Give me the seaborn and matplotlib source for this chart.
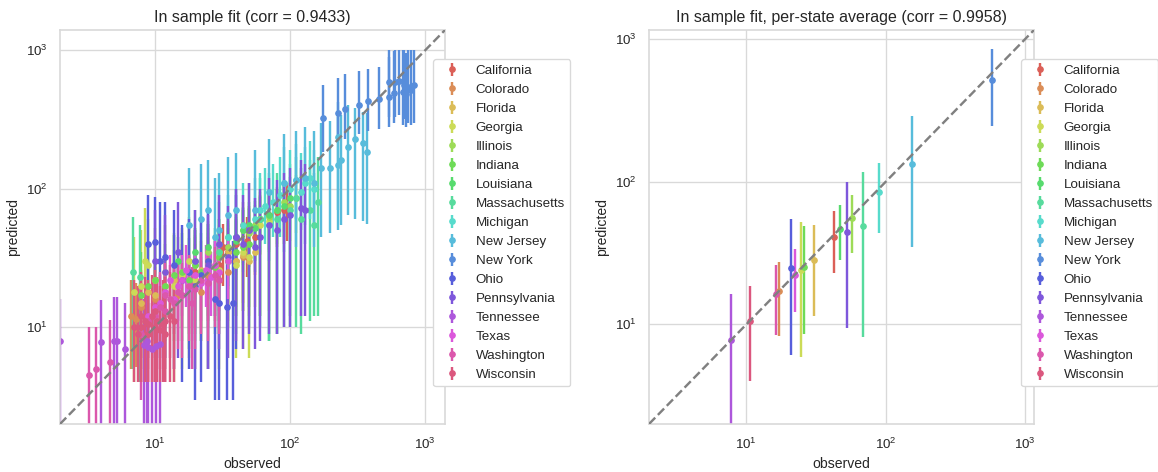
import numpy as np
import pandas as pd
import matplotlib
matplotlib.use("Agg")
import matplotlib.pyplot as plt
import seaborn as sns

# ---------------- data (observed, predicted, lower, upper) ----------------
states = ["California", "Colorado", "Florida", "Georgia", "Illinois", "Indiana",
          "Louisiana", "Massachusetts", "Michigan", "New Jersey", "New York",
          "Ohio", "Pennsylvania", "Tennessee", "Texas", "Washington", "Wisconsin"]

california = [(20,25,13,40),(25,30,16,45),(30,28,15,43),(32,38,20,56),(35,35,19,52),(40,40,22,60),
              (45,55,30,80),(48,42,23,63),(50,50,27,75),(55,45,24,68),(60,60,33,90),(70,65,36,95),
              (80,68,38,100),(90,70,40,105),(95,75,42,110)]
colorado = [(6.7,12,5,22),(7.3,11.5,5.2,21),(8,14,6,24),(10,16,7,27),(12,18,8,30),(15,17,8,28),
            (18,20,9,32),(20,22,10,35),(22,18,8,30),(25,24,11,38),(28,27,12,40),(30,22,10,36),
            (35,25,11,40),(40,30,14,48),(45,32,15,50)]
florida = [(8,15,6,26),(9,18,7,30),(10,17,7,29),(12,20,8,33),(14,22,9,36),(16,25,10,40),(20,28,11,45),
           (22,26,10,42),(25,30,12,48),(28,28,11,45),(30,32,13,52),(35,35,14,55),(40,30,12,48),
           (45,33,13,52),(50,30,12,48),(55,35,14,55)]
georgia = [(7,18,4,45),(8,20,4,50),(8.5,30,6,72),(9,28,5,60),(10,22,4,52),(12,25,5,55),(14,20,4,48),
           (16,24,5,52),(18,30,6,62),(20,22,5,50),(25,28,5,58),(30,26,5,55),(35,30,6,62),(40,28,6,58),
           (45,35,7,70),(50,32,6,65),(60,55,12,95),(70,58,13,100)]
illinois = [(20,30,16,46),(25,35,19,52),(30,35,19,53),(35,38,21,57),(40,45,25,67),(45,50,28,74),
            (50,48,27,71),(55,55,31,81),(60,60,34,88),(70,62,35,92),(80,70,40,103),(90,80,45,115),
            (100,75,42,110),(110,85,48,125)]
indiana = [(8,17,5,35),(9,20,6,40),(10,22,7,43),(12,20,6,40),(14,24,8,46),(16,25,8,48),(18,22,7,44),
           (20,28,9,52),(22,25,8,48),(25,30,10,56),(28,27,9,52),(30,32,11,60),(35,30,10,58),
           (40,35,12,65),(45,38,13,70),(50,40,14,72)]
louisiana = [(15,30,17,45),(20,35,20,52),(25,38,22,56),(30,40,23,60),(35,45,26,66),(40,42,24,62),
             (45,50,29,72),(50,55,32,80),(55,52,30,76),(60,60,12,87),(70,65,8,94),(80,70,9,100),
             (90,75,10,108),(100,85,12,122)]
massachusetts = [(6.9,25,5,62),(7.8,23,4,55),(20,30,8,70),(30,35,9,80),(40,45,9,100),(50,50,10,110),
                 (60,60,10,120),(70,55,8,130),(80,60,9,130),(100,70,10,150),(110,85,10,170),
                 (120,60,9,140),(140,70,11,160),(150,55,12,130),(160,80,12,170)]
michigan = [(35,45,20,90),(45,55,25,110),(55,60,30,120),(60,70,35,130),(65,75,40,140),(75,80,45,150),
            (85,90,45,170),(90,110,55,200),(100,100,50,190),(110,115,60,210),(120,95,50,180),
            (130,110,55,200),(140,120,60,220),(150,100,55,190)]
new_jersey = [(18,55,15,140),(22,60,18,150),(25,70,20,160),(28,45,12,120),(30,50,15,130),(35,65,20,170),
              (40,70,22,180),(55,70,25,190),(70,95,30,230),(90,110,35,250),(110,115,38,260),
              (130,120,40,280),(150,110,38,260),(170,140,45,300),(198,142,48,310),(228,148,50,330),
              (240,160,55,340),(228,237,70,420),(268,201,65,400),(302,229,60,380),(346,213,58,360),
              (370,185,56,350)]
new_york = [(177,322,183,560),(228,354,224,627),(256,376,230,676),(323,400,250,705),(380,428,260,726),
            (458,445,270,760),(537,586,330,1000),(543,461,280,900),(591,493,300,980),(598,586,330,1000),
            (641,603,340,1000),(680,500,290,1000),(700,560,320,1000),(720,480,280,950),
            (750,540,300,1000),(780,520,290,1000),(820,560,300,1000)]
ohio = [(9,40,8,90),(10,41,8,87),(11,30,6,80),(12,32,6,80),(14,28,5,70),(16,22,4,55),(18,25,5,60),
        (20,20,3,50),(22,24,4,58),(25,30,5,70),(28,16,3,42),(30,15,3,40),(34,14,3,40),(38,15,3,42),
        (40,45,7,90)]
pennsylvania = [(10,30,6,70),(12,25,5,65),(15,35,6,80),(20,30,5,70),(25,28,5,65),(30,40,7,90),
                (35,32,6,75),(40,45,8,100),(45,40,7,90),(50,50,9,110),(55,38,7,85),(60,45,8,100),
                (70,55,9,120),(80,50,9,115),(90,60,10,130),(100,65,10,140),(120,72,12,160),(130,70,12,150)]
tennessee = [(2.0,7.9,1,16),(4.0,7.8,1,15.7),(5.0,8.0,1,16.6),(5.3,7.9,1,16.6),(6.0,7.0,1,15),
             (8.4,7.5,1,16),(8.8,8.0,1,17),(9.0,7.2,1,15),(9.6,7.0,1,15),(10.3,7.3,1,16),(11,7.6,1,16)]
texas = [(9,12,6,20),(10,14,7,22),(11,15,8,24),(12,18,10,28),(13,22,12,33),(14,16,9,26),(15,20,11,31),
         (16,22,12,33),(17,26,14,39),(18,19,10,30),(20,24,13,36),(22,21,11,32),(24,26,14,39),
         (26,23,12,35),(28,28,15,42),(30,25,13,38),(35,30,16,45)]
washington = [(3.3,4.5,1,10),(3.7,5,1,10),(4.7,5.6,1.5,11.2),(8,9,3,18),(9,11,4,20),(10,12,4,22),
              (11,14,5,25),(12,13,4,24),(12,17,6,29),(13,16,6,28),(14,15,5,27),(15,18,7,30),
              (16,17,6,29),(18,20,8,33),(19,15,5,27),(20,19,7,31),(22,22,9,35),(25,21,8,34),
              (28,24,10,38),(30,22,9,36)]
wisconsin = [(7,10,4,22),(7.5,9,4,20),(8,10,4,21),(8,12,4,25),(8.5,11,4,23),(9,10.5,4,22),(9,9,4,19),
             (9.5,12,4,24),(10,10,4,21),(10,13,4,26),(10.5,11,4,23),(11,9.5,4,20),(11.5,10.5,4,22),
             (12,11,4,23),(12,9,4,20),(13,12,4,25),(14,11,4,23)]

daily_points = [california, colorado, florida, georgia, illinois, indiana, louisiana, massachusetts,
                michigan, new_jersey, new_york, ohio, pennsylvania, tennessee, texas, washington, wisconsin]

# per-state averages
avg_obs = [42.6, 17.1, 30.4, 24.7, 57.0, 26.1, 47.2, 69.0, 90.2, 154.5, 581, 20.9, 52.4, 7.7, 22.4, 16.3, 10.6]
avg_pred = [41.1, 17.0, 28.2, 23.9, 55.6, 25.3, 47.0, 48.9, 85.1, 133, 519, 24.9, 44.1, 7.76, 22.3, 16.3, 10.5]
avg_lo = [23.1, 8.3, 11.4, 5.9, 31.5, 8.6, 28.3, 8.15, 43.5, 34.8, 248, 6.05, 9.5, 1.0, 12.2, 8.4, 4.0]
avg_hi = [61.9, 27.2, 49.9, 51.9, 81.4, 48.6, 68.2, 117, 135, 288, 857, 54.7, 99.5, 16.3, 33.6, 26.0, 18.6]

titles = ["In sample fit (corr = 0.9433)", "In sample fit, per-state average (corr = 0.9958)"]
limits = [(2, 1400), (2, 1160)]

# ---------------- tables ----------------
rows = []
for st, pts in zip(states, daily_points):
    for o, p, lo, hi in pts:
        rows.append((st, o, p, lo, hi))
daily = pd.DataFrame(rows, columns=["state", "observed", "predicted", "lower", "upper"])
avg = pd.DataFrame({"state": states, "observed": avg_obs, "predicted": avg_pred,
                    "lower": avg_lo, "upper": avg_hi})

# ---------------- style ----------------
sns.set_theme(style="whitegrid", context="notebook")
plt.rcParams["font.family"] = ["Liberation Sans", "DejaVu Sans"]
plt.rcParams.update({
    "axes.titlesize": 12, "axes.labelsize": 10.5, "xtick.labelsize": 10, "ytick.labelsize": 10,
    "legend.fontsize": 10, "axes.edgecolor": "#d9d9d9", "grid.color": "#d9d9d9",
})
palette = sns.color_palette("hls", len(states))

DPI = 96
fig = plt.figure(figsize=(1158 / DPI, 472 / DPI), dpi=DPI)
ax1 = fig.add_axes([60 / 1158, 48 / 472, 385 / 1158, 394 / 472])
ax2 = fig.add_axes([649 / 1158, 48 / 472, 385 / 1158, 394 / 472])
legend_x = [433 / 1158, 1021 / 1158]

for ax, df, title, lim, lx in zip([ax1, ax2], [daily, avg], titles, limits, legend_x):
    for st, col in zip(states, palette):
        d = df[df["state"] == st]
        yerr = np.vstack([d["predicted"] - d["lower"], d["upper"] - d["predicted"]])
        ax.errorbar(d["observed"], d["predicted"], yerr=yerr, fmt="o", ms=4,
                    elinewidth=1.8, color=col, label=st, capsize=0)
    ax.plot(lim, lim, "--", color="gray", lw=1.8, zorder=5)
    ax.set_xscale("log")
    ax.set_yscale("log")
    ax.set_xlim(lim)
    ax.set_ylim(lim)
    ax.set_xlabel("observed")
    ax.set_ylabel("predicted")
    ax.set_title(title)
    ax.legend(loc="center left", bbox_to_anchor=(lx, 1 - 222.9 / 472),
              bbox_transform=fig.transFigure, borderaxespad=0, labelspacing=0.5,
              frameon=True, facecolor="white", edgecolor="#d9d9d9", framealpha=1.0)

fig.savefig("out.png", dpi=DPI)
